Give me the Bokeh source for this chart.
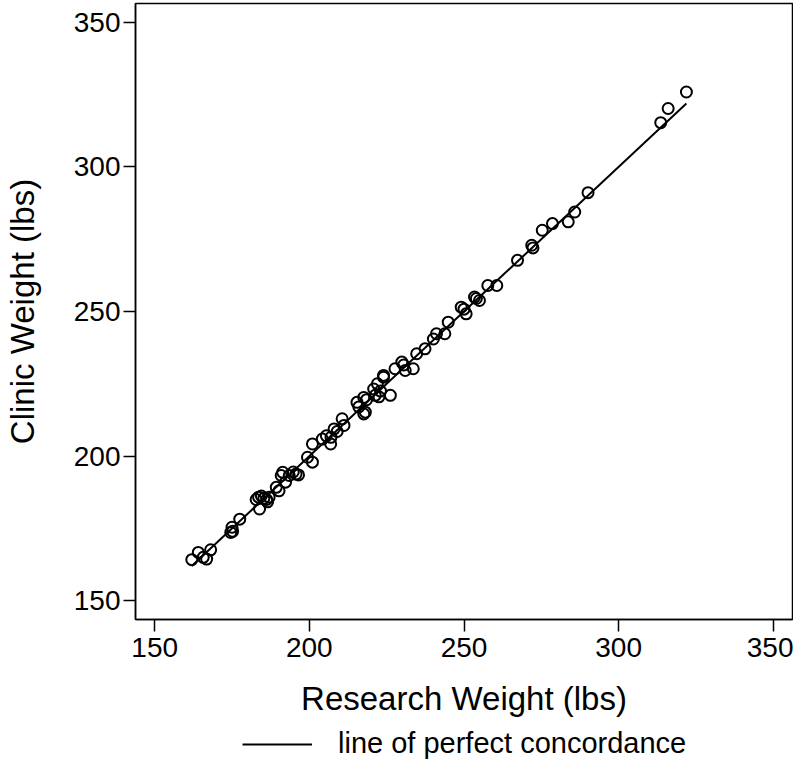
from bokeh.plotting import figure
from bokeh.layouts import column
from bokeh.models import Range1d, FixedTicker, Legend, LegendItem
from bokeh.embed import file_html
from bokeh.resources import INLINE

# Research weight (x) and clinic weight (y), lbs
research = [162.0, 164.1, 165.7, 166.8, 168.1, 174.6, 175.0, 177.5, 175.2,
            182.8, 183.6, 184.5, 185.3, 186.2, 187.0, 183.9, 186.5,
            189.3, 190.2, 190.9, 191.4, 192.3, 193.5, 194.8, 195.7, 196.5,
            199.4, 201.0, 201.0, 204.2, 205.5, 206.9, 207.0, 208.0, 209.0, 210.6, 211.2,
            215.4, 216.0, 217.6, 217.6, 218.1, 218.5, 220.8, 221.3, 222.0, 222.5, 223.0,
            224.0, 226.2, 227.7, 224.0, 229.9, 231.0, 230.5, 233.6, 234.7, 237.4,
            240.1, 241.1, 243.8, 244.9, 249.1, 250.0, 250.7, 253.4, 254.0, 255.0,
            257.7, 260.6, 267.3, 271.9, 272.3, 275.3, 278.6, 283.7, 285.8, 290.1,
            313.6, 316.0, 321.9]
clinic = [164.2, 166.7, 165.0, 164.4, 167.6, 173.6, 175.4, 178.2, 174.0,
          185.0, 185.8, 186.2, 185.4, 185.0, 185.8, 181.7, 184.2,
          189.2, 188.0, 193.3, 194.4, 191.0, 193.3, 194.5, 193.8, 193.5,
          199.6, 197.9, 204.2, 205.9, 207.0, 204.2, 206.5, 209.4, 208.5, 212.9, 210.6,
          218.6, 217.0, 220.3, 214.6, 215.2, 219.5, 223.2, 221.0, 225.0, 220.5, 222.5,
          227.3, 221.0, 230.2, 227.9, 232.5, 229.6, 231.5, 230.2, 235.4, 237.1,
          240.5, 242.3, 242.3, 246.3, 251.5, 250.8, 249.2, 255.0, 254.5, 253.8,
          259.0, 259.0, 267.7, 272.9, 272.0, 278.1, 280.4, 281.0, 284.4, 291.1,
          315.3, 320.2, 325.9]
tick_values = [150, 200, 250, 300, 350]
x_title = "Research Weight (lbs)"
y_title = "Clinic Weight (lbs)"
legend_label = "line of perfect concordance"

FONT = "Liberation Sans"

p = figure(width=793, height=728, output_backend="svg", toolbar_location=None,
           x_range=Range1d(143.8, 356.2), y_range=Range1d(143.5, 356.5),
           min_border_left=132, min_border_right=1, min_border_top=3,
           min_border_bottom=109)

p.xgrid.visible = False
p.ygrid.visible = False
p.outline_line_color = "black"
p.outline_line_width = 1.5
p.background_fill_color = "white"
p.border_fill_color = "white"

for ax in (p.xaxis[0], p.yaxis[0]):
    ax.ticker = FixedTicker(ticks=tick_values)
    ax.major_tick_out = 12
    ax.major_tick_in = 0
    ax.minor_tick_out = 0
    ax.minor_tick_in = 0
    ax.major_tick_line_width = 1.5
    ax.axis_line_width = 1.5
    ax.major_label_text_font = FONT
    ax.major_label_text_font_size = "28px"
    ax.major_label_text_color = "black"
    ax.axis_label_text_font = FONT
    ax.axis_label_text_font_size = "33px"
    ax.axis_label_text_font_style = "normal"
    ax.axis_label_text_color = "black"

p.xaxis[0].axis_label = x_title
p.yaxis[0].axis_label = y_title
p.xaxis[0].major_label_standoff = 6
p.xaxis[0].axis_label_standoff = 20
p.yaxis[0].major_label_standoff = 3
p.yaxis[0].axis_label_standoff = 30
p.yaxis[0].major_label_orientation = "horizontal"

lx = [min(research), max(research)]
p.line(lx, lx, line_color="black", line_width=2)
p.scatter(research, clinic, marker="circle", size=11, fill_color=None,
          line_color="black", line_width=2)

# Legend strip below the plot (its line lies outside the strip's range)
lg = figure(width=793, height=32, output_backend="svg", toolbar_location=None,
            x_range=Range1d(0, 1), y_range=Range1d(0, 1),
            x_axis_type=None, y_axis_type=None,
            min_border_left=0, min_border_right=0, min_border_top=0,
            min_border_bottom=0)
lg.outline_line_color = None
lg.xgrid.visible = False
lg.ygrid.visible = False
sample = lg.line(lx, lx, line_color="black", line_width=2)
legend = Legend(items=[LegendItem(label=legend_label, renderers=[sample])],
                location=(107, 0), orientation="horizontal",
                glyph_width=70, glyph_height=20, label_standoff=26,
                label_height=28, label_text_line_height=1.0,
                label_text_font=FONT, label_text_font_size="29px",
                label_text_color="black", padding=0, margin=0, spacing=0,
                border_line_color=None, background_fill_alpha=0)
lg.add_layout(legend, "center")

layout = column(p, lg, spacing=0)
open("out.html", "w").write(file_html(layout, INLINE))
